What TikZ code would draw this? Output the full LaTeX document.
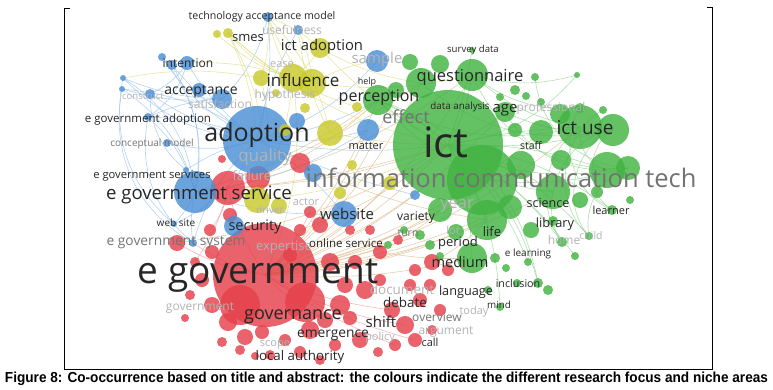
\documentclass[tikz,border=0pt]{standalone}
\usepackage{fontspec}
\setmainfont{Open Sans}
\newfontfamily\capfont{Liberation Sans}
\usetikzlibrary{backgrounds}
\definecolor{vosblue}{HTML}{4A8FD6}
\definecolor{vosred}{HTML}{E5404A}
\definecolor{vosgreen}{HTML}{42B342}
\definecolor{vosyellow}{HTML}{C9C92C}
\definecolor{linkgreen}{HTML}{8FD28F}
\definecolor{linktan}{HTML}{DDB98A}
\definecolor{linkblue}{HTML}{95BFE8}
\definecolor{linkyellow}{HTML}{DCDC7A}
\definecolor{linkred}{HTML}{EE9A9F}
\tikzset{
bubble/.style={circle,inner sep=0pt,minimum size={2*#1*1pt},fill opacity=.82,draw=none},
bblue/.style={bubble=#1,fill=vosblue},
bred/.style={bubble=#1,fill=vosred},
bgreen/.style={bubble=#1,fill=vosgreen},
byellow/.style={bubble=#1,fill=vosyellow},
link/.style={line width=.6pt,opacity=.7},
lbl/.style={font=\fontsize{#1}{#1}\selectfont,inner sep=0pt,text=black!85},
grey/.style={lbl=#1,text=black!55},
faint/.style={lbl=#1,text=black!30},
frame/.style={line width=.9pt,draw=black}}

\begin{document}
\begin{tikzpicture}[x=1pt,y=-1pt]
\useasboundingbox (0,0) rectangle (773,389);
% frame of the figure
\coordinate (tl) at (64,8);
\coordinate (tr) at (712,7);
\coordinate (bl) at (64,369);
\coordinate (br) at (712,369);
\draw[frame] ([xshift=6pt]tl) -- (tl) -- (bl) -- (br) -- (tr) -- ([xshift=-5pt]tr);

% red cluster
\foreach \n/\x/\y/\r in {egov/265/275/52,egov2/240/305/20,egov3/305/302/20,fail/228/188/17,fail2/258/178/12,rd1/300/163/10,rd2/222/159/4,rd3/177/243/8}
  \node[bred=\r] (\n) at (\x,\y) {};
\foreach \x/\y/\r [count=\i] in {212/252/7,202/280/7,212/305/8,228/322/9,245/337/8,262/332/7,285/340/6,310/330/9,325/320/8,340/305/10,345/285/8,330/262/9,355/262/7,365/290/9,380/280/6,392/310/8,405/325/9,420/300/7,430/285/6,395/345/6,415/340/7,360/340/8,300/352/6,270/355/5,240/350/5,432/262/8,448/270/6,415/270/6,380/252/7,398/240/5,370/230/5,320/225/8,300/230/6,290/255/7,195/262/5,210/230/6,350/318/7,440/310/6,410/285/6,335/345/6,320/360/5,255/356/4,350/230/5,230/215/7,310/212/6,432/330/5,378/352/5,190/295/5,185/318/4,222/342/5}
  \node[bred=\r] (r\i) at (\x,\y) {};

% blue cluster
\foreach \n/\x/\y/\r in {adopt/257/140/34,egs/195/192/21,acc/222/99/10,acc2/199/90/7,matter/368/130/11,sample/377/61/11,website/344/214/13,secur/234/226/10,bsm1/297/121/8,bsm2/313/173/9,bsm3/415/195/5,int1/187/63/7,int2/172/65/5,int3/162/57/4,bl1/123/78/3,bl2/122/89/3,bl3/150/94/5,bl4/148/117/4,bl5/167/143/4,bl6/186/170/3,bl7/174/224/3,bl8/193/243/4,tam/268/17/5,useful/298/30/5}
  \node[bblue=\r] (\n) at (\x,\y) {};

% yellow cluster
\foreach \n/\x/\y/\r in {infl/293/78/14,infl2/312/83/14,ictad/320/48/10,smes/228/33/5,smes2/217/34/4,y1/261/78/8,y2/330/133/13,y3/257/200/13,y4/279/206/8,y5/340/193/6,y6/390/183/7,y7/357/107/5,y8/276/93/4,y9/305/108/5,y10/352/165/5,y11/285/130/6}
  \node[byellow=\r] (\n) at (\x,\y) {};

% green cluster
\foreach \n/\x/\y/\r in {ict/448/145/55,icom/482/180/35,quest/472/75/16,quest2/421/83/15,percep/378/100/15,age/505/112/10,iuse/580/127/22,iuse2/613/130/16,iuse3/541/132/12,iuse4/560/114/10,gr1/607/170/18,gr2/628/168/12,sci/553/192/17,life/487/220/20,med/472/258/15,gr3/521/165/14,gr4/510/207/12,gr5/531/230/8,gr6/440/210/12,gr7/456/232/8,gl/612/210/5,gh/562/242/5,gc/589/236/4,gi/538/283/5,gi2/548/290/5,gm/500/307/4,gt1/577/75/3,gt2/535/77/4,gsd/472/50/3,glib/553/221/5,gel/528/262/4}
  \node[bgreen=\r] (\n) at (\x,\y) {};
\foreach \x/\y/\r [count=\i] in {515/90/5,500/97/4,526/96/4,541/102/4,580/108/5,603/110/4,517/283/4,488/290/4,506/268/4,495/258/5,430/245/5,420/235/5,440/256/4,575/256/4,630/200/4,580/200/8,597/192/6,561/160/10,410/62/8,440/64/9,515/130/7,396/90/8,404/230/4,388/245/4}
  \node[bgreen=\r] (g\i) at (\x,\y) {};

% links behind the bubbles
\begin{pgfonlayer}{background}
\foreach \a/\b/\t in {adopt/int1/10,adopt/int3/15,adopt/bl1/20,adopt/bl2/-15,adopt/bl3/10,adopt/bl4/-10,adopt/bl5/15,adopt/bl6/-10,adopt/bl7/20,adopt/bl8/-15,adopt/tam/-10,adopt/useful/10,adopt/sample/-15,adopt/matter/-10,adopt/website/10,adopt/ict/-8,egs/bl1/-25,egs/bl2/-20,egs/bl4/-15,egs/bl7/10,egs/bl8/-10,egs/int2/-20,acc/bl2/10,int1/bl3/15,bl1/bl7/-30,bl2/bl8/-35,egs/website/-10,acc/tam/-15,adopt/bsm3/-5,egs/int3/-25,acc/bl1/10,acc/bl4/-10,int1/bl4/20,bl3/bl6/-25,adopt/percep/-10,egs/matter/-12,bl4/bl8/-30,adopt/int2/8}
  \draw[link,linkblue] (\a.center) to[bend left=\t] (\b.center);
\foreach \a/\b/\t in {egov/percep/-10,egov/ict/-10,egov/quest/-15,egov/life/-10,egov/med/-8,egov/age/-12,egov/iuse3/-12,fail/ict/-8,egs/ict/-6,egs/percep/-8,egov/gr6/-10,egov/sci/-10,fail/quest/-10,egov/g12/-5,egov/g11/-8,rd3/ict/-12,egov/y6/-10,egov/bsm3/-8,r26/life/-10,r30/gr6/-8,egov/g23/-6,egov/matter/-12,egov/iuse/-14,egov/gr3/-10,fail/percep/-12,egov/g22/-14,egov/quest2/-12,r33/ict/-10,r29/med/-6,egov/gr4/-8,egs/quest2/-8,egov/g24/-5,rd1/life/-8,egov/website/-8}
  \draw[link,linktan] (\a.center) to[bend left=\t] (\b.center);
\foreach \a/\b/\t in {infl/tam/10,infl/smes/15,infl/ictad/-10,infl2/useful/-10,infl/y3/10,y2/percep/-10,infl2/quest/-10,smes/ict/-15,ictad/ict/-10,infl/egov/15,y1/bl1/-10,infl/int1/-10,y3/ict/-10,y2/ict/-5,smes/y3/20,tam/y2/15,infl2/sample/10,y1/y3/15,smes2/infl2/-15,tam/ictad/10,smes/adopt/10,useful/y2/-10,tam/infl2/-12,smes/y7/-12,ictad/quest2/-10,y1/tam/-10}
  \draw[link,linkyellow] (\a.center) to[bend left=\t] (\b.center);
\foreach \a/\b/\t in {ict/iuse/5,ict/iuse2/-8,ict/gr1/10,ict/sci/10,ict/life/8,ict/med/10,ict/quest/-10,ict/percep/-10,ict/age/-8,ict/gl/15,ict/gh/12,ict/gc/15,ict/gi/18,ict/gm/15,ict/gt1/-20,icom/gr2/-10,quest/iuse/-15,iuse/gr1/-40,iuse2/gl/-60,gr2/gc/-40,iuse/gh/-45,age/iuse2/-15,percep/iuse/-20,quest/gt1/-15,iuse2/gc/-55,gt2/gr2/-40,ict/g14/12,percep/gi/30,quest/gr2/-35,ict/gsd/-5,g5/gl/-50,quest/g5/-20,percep/gr2/-25,age/gr1/-30,ict/gel/12,quest2/iuse2/-25,percep/sci/-20,iuse2/gh/-60,g6/gc/-55}
  \draw[link,linkgreen] (\a.center) to[bend left=\t] (\b.center);
\foreach \a/\b/\t in {egov/fail/10,egov/rd3/10,fail/egs/10,egov/bl8/10,egov/r17/-10,egov/r21/-8,egov/r45/-10,fail/r36/15,egov/r9/-10,egov/r16/-8,egov/r20/-6,fail/r35/10}
  \draw[link,linkred] (\a.center) to[bend left=\t] (\b.center);
\end{pgfonlayer}

% terms
\foreach \n/\x/\y/\s/\txt in {useful/292/30/12/usefulness,constr/143/96/9.5/construct,hypo/285/95/12/hypothesis,satis/220/104/12/satisfaction,ease/282/65/11/ease,sample/377/60/15/sample,quality/265/157/17/quality,failure/252/176/13/failure,actor/306/202/11/actor,driver/270/210/10/driver,expert/284/247/13/expertise,prof/551/108/12/professional,year/457/206/16.5/year,lot/453/230/11/lot,home/564/240/12/home,child/591/236/10.5/child,doc/402/289/13.5/document,today/474/312/11/today,argu/446/332/12/argument,policy/380/338/11/policy,scope/275/345/11/scope,govt/200/308/12/government}
  \node[faint=\s] (t-\n) at (\x,\y) {\txt};
\foreach \n/\x/\y/\s/\txt in {icom/501/178/25.5/information communication tech,egsys/176/243/13.8/e government system,overview/437/317/12/overview,turn/408/233/10.5/turn,cmod/152/144/10/conceptual model,effect/406/117/18/effect}
  \node[grey=\s] (t-\n) at (\x,\y) {\txt};
\foreach \n/\x/\y/\s/\txt in {tam/262/17/10.6/technology acceptance model,smes/248/38/13/smes,ictad/322/47/14.8/ict adoption,int/188/63/12/intention,acc/201/92/14/acceptance,ega/148/120/11.5/e government adoption,influ/303/80/17/influence,help/367/82/9/help,percep/379/98/16/perception,quest/470/77/16.5/questionnaire,survey/473/50/9.6/survey data,danal/460/107/9.8/data analysis,age/505/110/15/age,ictuse/585/128/19/ict use,adopt/257/135/25/adoption,ict/446/142/42/ict,staff/531/146/10.5/staff,matter/366/146/11/matter,egss/152/176/11.2/e government services,egs/199/195/18.6/e government service,science/548/203/12.5/science,learner/611/210/11/learner,website/347/214/15/website,variety/416/218/12/variety,websit/176/223/10/web site,security/255/227/14.5/security,library/555/224/12.8/library,life/492/232/13/life,period/458/243/13/period,online/346/243/11.5/online service,elearn/528/254/10/e learning,medium/460/262/14.6/medium,egov/258/276/37/e government,inclus/518/283/10.7/inclusion,lang/466/292/12.7/language,debate/405/302/13.4/debate,mind/499/305/9.8/mind,gov/293/317/18/governance,shift/381/322/15/shift,emerg/333/335/13.8/emergence,call/430/342/11/call,local/300/357/13.3/local authority}
  \node[lbl=\s] (t-\n) at (\x,\y) {\txt};

% caption
\node[anchor=base,inner sep=0pt] (caption) at (386.5,382) {\resizebox{763pt}{10.5pt}{\capfont\bfseries Figure 8: Co-occurrence based on title and abstract: the colours indicate the different research focus and niche areas}};
\end{tikzpicture}
\end{document}
